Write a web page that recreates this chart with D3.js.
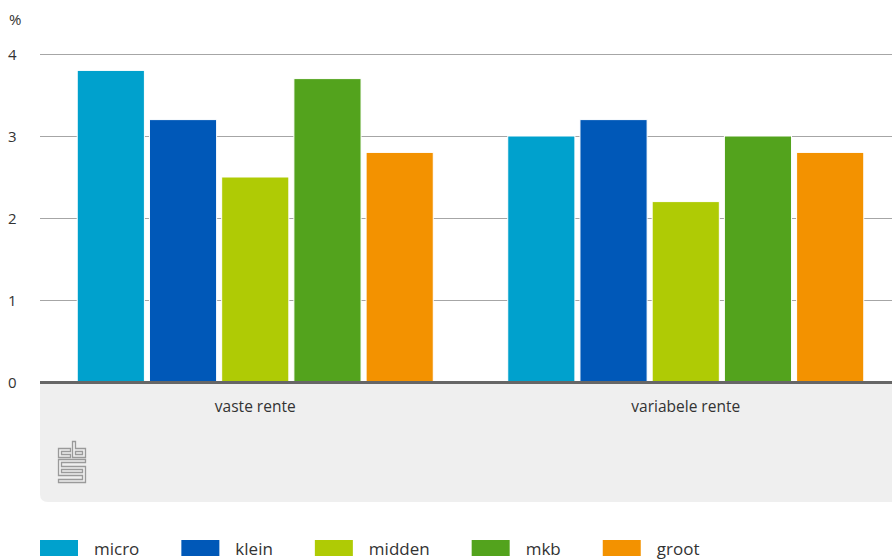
<!DOCTYPE html>
<html>
<head>
<meta charset="utf-8">
<script src="https://cdn.jsdelivr.net/npm/d3@7"></script>
<style>
  body { margin: 0; background: #fff; }
  svg text { font-family: "Open Sans", sans-serif; fill: #333; }
</style>
</head>
<body>
<div id="chart"></div>
<script>
const groups = ["vaste rente", "variabele rente"];
const series = ["micro", "klein", "midden", "mkb", "groot"];
const colors = ["#00a1cd", "#0058b8", "#afcb05", "#53a31d", "#f39200"];
const vaste_rente = [3.8, 3.2, 2.5, 3.7, 2.8];
const variabele_rente = [3.0, 3.2, 2.2, 3.0, 2.8];
const yTicks = [0, 1, 2, 3, 4];

const values = [vaste_rente, variabele_rente];

const width = 892, height = 559;

let svg = d3.select("#chart")
    .append("svg")
    .attr("width", width)
    .attr("height", height);

let x0 = d3.scaleBand()
    .domain(groups)
    .range([40, 901])
    .paddingInner(0.173)
    .paddingOuter(0.0865);

let x1 = d3.scaleBand()
    .domain(series)
    .range([0, x0.bandwidth()])
    .paddingInner(0.07);

let yScale = d3.scaleLinear()
    .domain([0, 4])
    .range([382, 54]);

let color = d3.scaleOrdinal().domain(series).range(colors);

// grey panel under the axis
svg.append("path")
    .attr("d", "M40,383 H892 V502 H48 Q40,502 40,494 Z")
    .attr("fill", "#efefef");

// grid lines
svg.append("g")
    .selectAll("line")
    .data(yTicks.filter(d => d > 0))
    .enter()
    .append("line")
    .attr("x1", 40)
    .attr("x2", width)
    .attr("y1", d => yScale(d) + 0.5)
    .attr("y2", d => yScale(d) + 0.5)
    .attr("stroke", "#a6a6a6")
    .attr("stroke-width", 1);

// y tick labels
svg.append("g")
    .selectAll("text")
    .data(yTicks)
    .enter()
    .append("text")
    .attr("x", 8)
    .attr("y", d => yScale(d) + 6)
    .attr("font-size", 15)
    .text(d => d);

svg.append("text")
    .attr("x", 9)
    .attr("y", 25)
    .attr("font-size", 15)
    .text("%");

// bars
let groupG = svg.selectAll(".group")
    .data(groups)
    .enter()
    .append("g")
    .attr("transform", d => "translate(" + x0(d) + ",0)");

groupG.selectAll("rect")
    .data((g, i) => series.map((s, j) => ({ key: s, value: values[i][j] })))
    .enter()
    .append("rect")
    .attr("x", d => x1(d.key))
    .attr("y", d => yScale(d.value))
    .attr("width", x1.bandwidth())
    .attr("height", d => yScale(0) - yScale(d.value))
    .attr("fill", d => color(d.key))
    .attr("stroke", "#fff")
    .attr("stroke-width", 1);

// baseline
svg.append("line")
    .attr("x1", 40)
    .attr("x2", width)
    .attr("y1", yScale(0) + 0.5)
    .attr("y2", yScale(0) + 0.5)
    .attr("stroke", "#666")
    .attr("stroke-width", 3);

// category labels
svg.append("g")
    .selectAll("text")
    .data(groups)
    .enter()
    .append("text")
    .attr("x", d => x0(d) + x0.bandwidth() / 2)
    .attr("y", 412)
    .attr("text-anchor", "middle")
    .attr("font-size", 15.5)
    .text(d => d);

// cbs logo
let logo = svg.append("g")
    .attr("transform", "translate(58,441)")
    .attr("fill", "none")
    .attr("stroke", "#9a9a9a")
    .attr("stroke-width", 1.3);
logo.append("path").attr("d", "M0.5,7.5 H12.5 V10.5 H3.5 V13.5 H12.5 V16.5 H0.5 Z");
logo.append("path").attr("d", "M14.5,0.5 H17.5 V7.5 H27.5 V16.5 H14.5 Z M17.5,10.5 V13.5 H24.5 V10.5 Z");
logo.append("path").attr("d", "M0.5,18.5 H27.5 V21.5 H3.5 V25.5 H27.5 V41.5 H0.5 V38.5 H24.5 V34.5 H0.5 Z M3.5,28.5 V31.5 H24.5 V28.5 Z");

// legend
let lx = 40;
series.forEach(function (s) {
    let g = svg.append("g").attr("transform", "translate(" + lx + ",540)");
    g.append("rect")
        .attr("width", 38)
        .attr("height", 16)
        .attr("fill", color(s));
    let t = g.append("text")
        .attr("x", 54)
        .attr("y", 15)
        .attr("font-size", 17)
        .text(s);
    lx += 54 + t.node().getComputedTextLength() + 42;
});
</script>
</body>
</html>
